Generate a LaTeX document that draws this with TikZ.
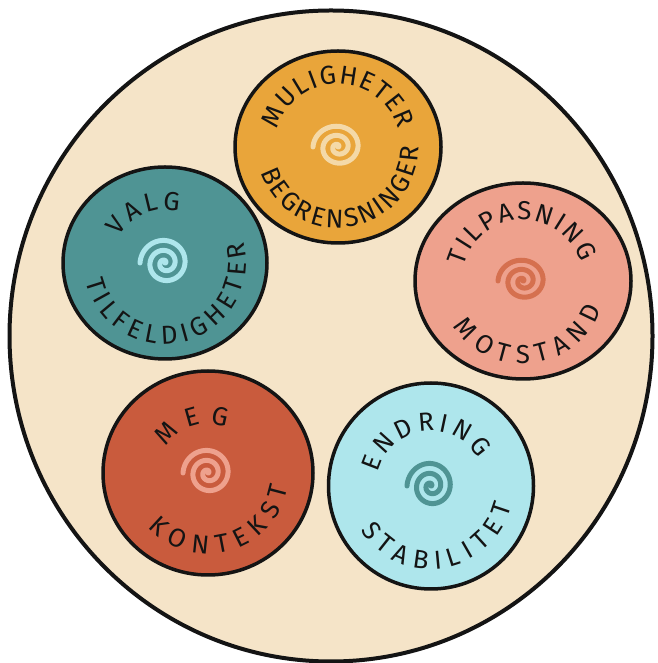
\documentclass[tikz,border=0pt]{standalone}
\usepackage{fontspec}
\setmainfont{Fira Sans}
\usetikzlibrary{decorations.text,shapes.geometric}
\definecolor{Ink}{HTML}{141414}
\definecolor{Sand}{HTML}{F5E4C8}
\definecolor{Amber}{HTML}{E9A53A}
\definecolor{Cream}{HTML}{F4D9A8}
\definecolor{Sea}{HTML}{4F9494}
\definecolor{Sky}{HTML}{AEE6EC}
\definecolor{Salmon}{HTML}{EEA18D}
\definecolor{Clay}{HTML}{D5704F}
\definecolor{Rust}{HTML}{C95B3D}
\newcommand{\discfont}{\fontsize{26}{30}\selectfont}
\tikzset{
  plate/.style={ellipse, draw=Ink, line width=4pt, fill=Sand, inner sep=0pt},
  disc/.style={ellipse, draw=Ink, line width=3.5pt, inner sep=0pt},
  swirl/.style={line width=5pt, line cap=round},
  arctext/.style={decorate, decoration={text along path, text={|\discfont|#1},
    text align={fit to path}, text color=Ink}}
}

\begin{document}
\begin{tikzpicture}[x=1pt,y=1pt]
    \useasboundingbox (0,0) rectangle (657,663);
    \node[plate, minimum width=643pt, minimum height=651pt] (plate) at (331,327) {};
    % the five discs
    \node[disc, fill=Amber, minimum width=206pt, minimum height=192pt] (mul) at (338,516) {};
    \node[disc, fill=Sea, minimum width=204pt, minimum height=192pt] (valg) at (165,400) {};
    \node[disc, fill=Salmon, minimum width=216pt, minimum height=196pt] (tilp) at (523,382) {};
    \node[disc, fill=Rust, minimum width=210pt, minimum height=204pt] (meg) at (208,190) {};
    \node[disc, fill=Sky, minimum width=205pt, minimum height=206pt] (endr) at (431,177) {};
    % spirals
    \draw[swirl, draw=Cream, shift={(mul.center)}] plot[domain=0:900, samples=160, smooth] ({\x/900*25*cos(\x)}, {\x/900*23*sin(\x)});
    \draw[swirl, draw=Sky, shift={(valg.center)}] plot[domain=0:900, samples=160, smooth] ({\x/900*25*cos(\x)}, {\x/900*25*sin(\x)});
    \draw[swirl, draw=Clay, shift={(tilp.center)}] plot[domain=0:900, samples=160, smooth] ({\x/900*25*cos(\x)}, {\x/900*23*sin(\x)});
    \draw[swirl, draw=Salmon, shift={(meg.center)}] plot[domain=0:900, samples=160, smooth] ({\x/900*25*cos(\x)}, {\x/900*25*sin(\x)});
    \draw[swirl, draw=Sea, shift={(endr.center)}] plot[domain=0:900, samples=160, smooth] ({\x/900*24*cos(\x)}, {\x/900*25*sin(\x)});
    % labels along the rims
    \path[arctext=MULIGHETER] ([shift={(164:63pt)}]mul.center) arc[start angle=164, end angle=16, radius=63pt];
    \path[arctext=BEGRENSNINGER] ([shift={(198:81pt)}]mul.center) arc[start angle=198, end angle=360, radius=81pt];
    \path[arctext=VALG] ([shift={(150:53pt)}]valg.center) arc[start angle=150, end angle=75, radius=53pt];
    \path[arctext=TILFELDIGHETER] ([shift={(193:81pt)}]valg.center) arc[start angle=193, end angle=375, radius=81pt];
    \path[arctext=TILPASNING] ([shift={(166:61pt)}]tilp.center) arc[start angle=166, end angle=18, radius=61pt];
    \path[arctext=MOTSTAND] ([shift={(213:83pt)}]tilp.center) arc[start angle=213, end angle=340, radius=83pt];
    \path[arctext=MEG] ([shift={(148:49pt)}]meg.center) arc[start angle=148, end angle=68, radius=49pt];
    \path[arctext=KONTEKST] ([shift={(222:81pt)}]meg.center) arc[start angle=222, end angle=350, radius=81pt];
    \path[arctext=ENDRING] ([shift={(166:55pt)}]endr.center) arc[start angle=166, end angle=30, radius=55pt];
    \path[arctext=STABILITET] ([shift={(212:83pt)}]endr.center) arc[start angle=212, end angle=346, radius=83pt];
  \end{tikzpicture}
\end{document}
